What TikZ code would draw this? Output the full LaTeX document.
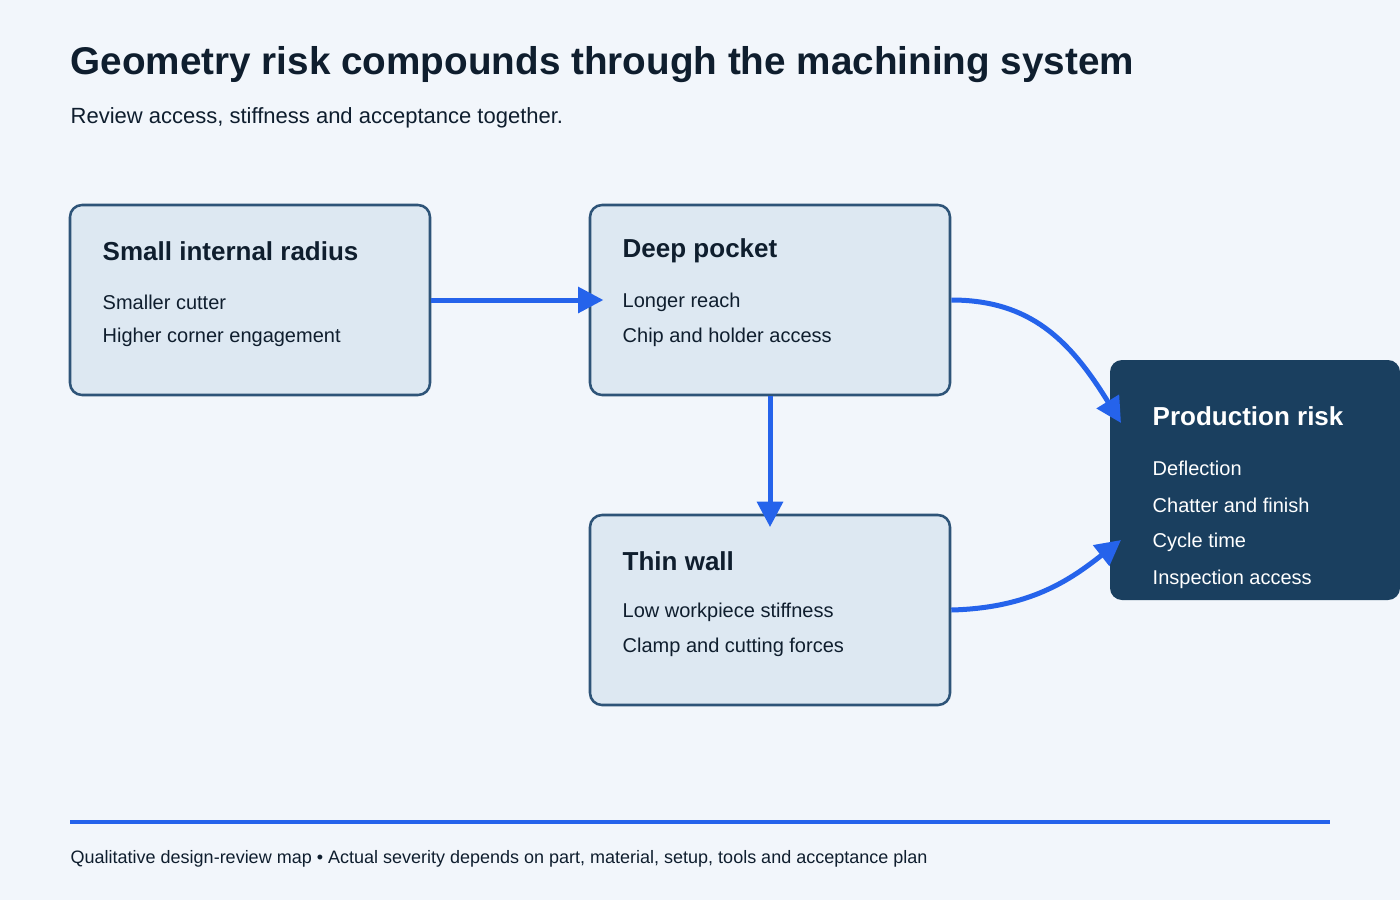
\documentclass[tikz,border=0pt]{standalone}
\usepackage{fontspec}
\setmainfont{Liberation Sans}
\usetikzlibrary{arrows.meta}
\definecolor{bgcol}{HTML}{F2F6FB}
\definecolor{boxfill}{HTML}{DDE8F2}
\definecolor{boxline}{HTML}{2E5478}
\definecolor{darkbox}{HTML}{1A3F5F}
\definecolor{ink}{HTML}{0F1E2E}
\definecolor{flow}{HTML}{2563EB}
\tikzset{
  box/.style={draw=boxline, line width=1.9pt, fill=boxfill, rounded corners=9pt,
    minimum width=270pt, minimum height=142.5pt},
  riskbox/.style={fill=darkbox, rounded corners=9pt, minimum width=217.5pt, minimum height=180pt},
  head/.style={anchor=west, font=\fontsize{19.5}{22}\selectfont\bfseries, text=ink},
  item/.style={anchor=west, font=\fontsize{15}{18}\selectfont, text=ink},
  link/.style={draw=flow, line width=3.75pt, -{Triangle[length=19pt,width=19pt]}}
}
\begin{document}
\begin{tikzpicture}[x=0.75pt,y=-0.75pt]
\fill[bgcol] (0,0) rectangle (1400,900);
\useasboundingbox (0,0) rectangle (1400,900);

% heading
\node[anchor=west, font=\fontsize{29}{34}\selectfont\bfseries, text=ink] (title) at (66,65) {Geometry risk compounds through the machining system};
\node[item, font=\fontsize{16.5}{20}\selectfont] (sub) at (66,118) {Review access, stiffness and acceptance together.};

% boxes
\node[box] (radius) at (250,300) {};
\node[box] (pocket) at (770,300) {};
\node[box] (wall) at (770,610) {};
\node[riskbox] (risk) at (1255,480) {};

\node[head] (radiush) at (98,251) {Small internal radius};
\node[item] (radius1) at (98,302) {Smaller cutter};
\node[item] (radius2) at (98,337) {Higher corner engagement};

\node[head] (pocketh) at (618,251) {Deep pocket};
\node[item] (pocket1) at (618,302) {Longer reach};
\node[item] (pocket2) at (618,337) {Chip and holder access};

\node[head] (wallh) at (618,561) {Thin wall};
\node[item] (wall1) at (618,612) {Low workpiece stiffness};
\node[item] (wall2) at (618,647) {Clamp and cutting forces};

\node[head, text=white] (riskh) at (1148,416) {Production risk};
\node[item, text=white] (risk1) at (1148,468) {Deflection};
\node[item, text=white] (risk2) at (1148,505) {Chatter and finish};
\node[item, text=white] (risk3) at (1148,542) {Cycle time};
\node[item, text=white] (risk4) at (1148,579) {Inspection access};

% connectors
\coordinate (topin) at (1121,423);
\coordinate (lowin) at (1121,540);
\draw[link, shorten >=-11pt] (radius.east) -- (pocket.west);
\draw[link, shorten >=-10pt] (pocket.south) -- (wall.north);
\draw[link] (pocket.east) .. controls (1030,300) and (1070,340) .. (topin);
\draw[link] (wall.east) .. controls (1030,608) and (1070,580) .. (lowin);

% footer
\draw[flow, line width=3pt] (70,822) -- (1330,822);
\node[item, font=\fontsize{13.5}{16}\selectfont] (foot) at (66,859) {Qualitative design-review map • Actual severity depends on part, material, setup, tools and acceptance plan};
\end{tikzpicture}
\end{document}
